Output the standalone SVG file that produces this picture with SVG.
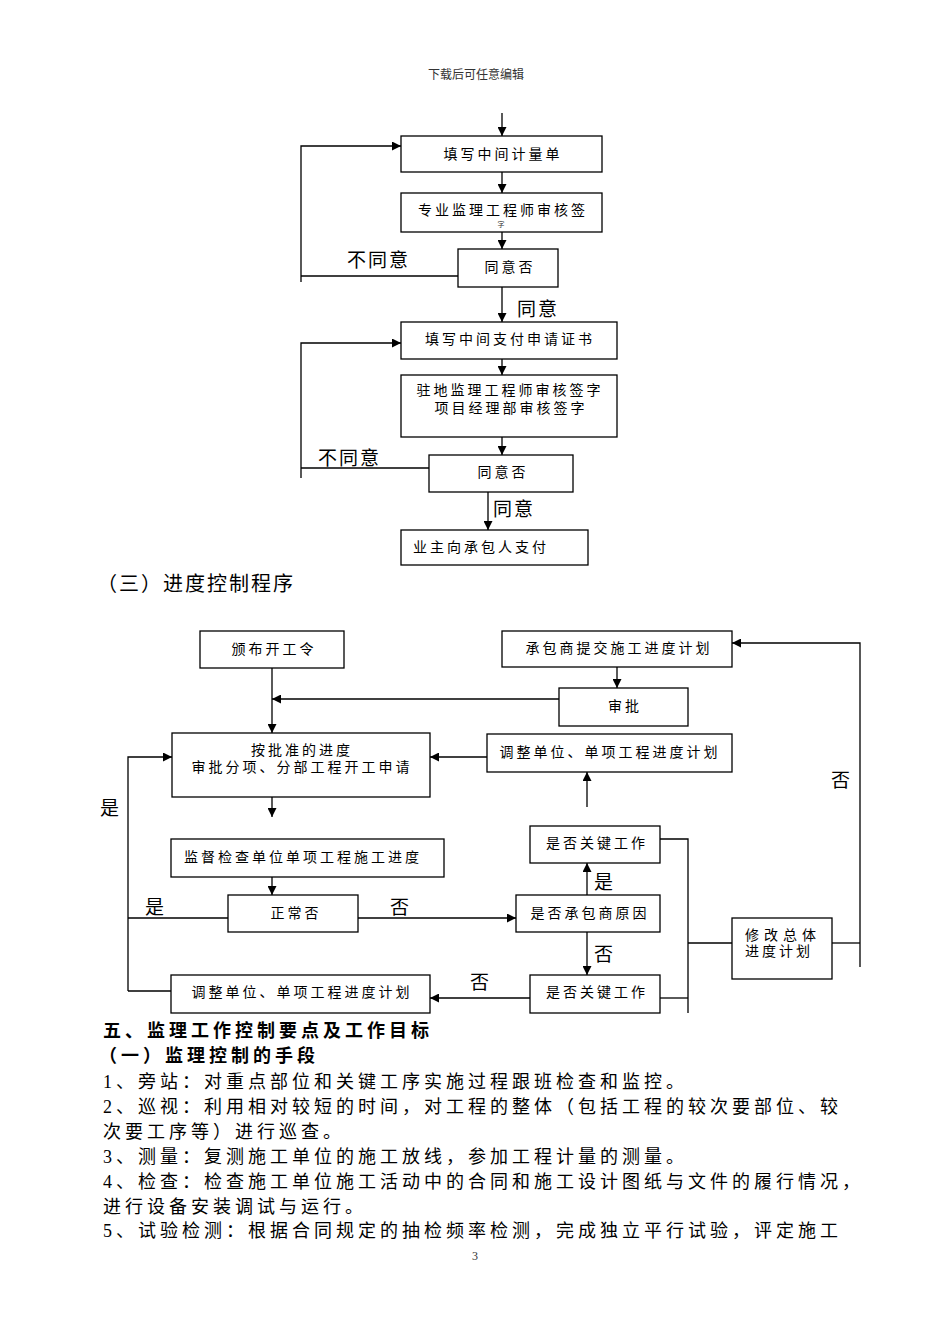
<svg xmlns="http://www.w3.org/2000/svg" width="950" height="1344" viewBox="0 0 950 1344">
<defs>
<marker id="ah" viewBox="0 0 10 10" refX="10" refY="5" markerWidth="10" markerHeight="9" orient="auto" markerUnits="userSpaceOnUse"><path d="M0,0 L10,5 L0,10 z" fill="#000"/></marker>
<style>
.box{fill:#fff;stroke:#000;stroke-width:1.3}
.ln{fill:none;stroke:#000;stroke-width:1.3}
.ar{fill:none;stroke:#000;stroke-width:1.3;marker-end:url(#ah)}
.bt{font-family:"Liberation Serif","Noto Sans CJK SC",sans-serif;font-size:14px;letter-spacing:3px;fill:#000}
.lb{font-family:"Liberation Serif","Noto Sans CJK SC",sans-serif;font-size:19px;letter-spacing:2px;fill:#000}
.ttl{font-family:"Liberation Serif","Noto Sans CJK SC",sans-serif;font-size:20px;letter-spacing:2px;fill:#000}
.body{font-family:"Liberation Serif","Noto Sans CJK SC",sans-serif;font-size:18px;letter-spacing:4px;fill:#000}
.hd{font-family:"Liberation Serif","Noto Sans CJK SC",sans-serif;font-size:18px;letter-spacing:4px;font-weight:bold;fill:#000}
.sm{font-family:"Liberation Serif","Noto Sans CJK SC",sans-serif;font-size:12px;fill:#333}
.c{text-anchor:middle}
</style>
</defs>
<rect width="950" height="1344" fill="#fff"/>
<text class="sm c" x="476" y="79">下载后可任意编辑</text>

<!-- Flowchart 1 -->
<g id="connectors1">
<path class="ar" d="M502,113 V136"/>
<path class="ar" d="M502,172 V193"/>
<path class="ar" d="M502,232 V249"/>
<path class="ln" d="M458,276 H301"/>
<path class="ar" d="M301,282 V146 H401"/>
<path class="ar" d="M502,287 V322"/>
<path class="ar" d="M502,359 V375"/>
<path class="ar" d="M502,437 V455"/>
<path class="ln" d="M429,468 H301"/>
<path class="ar" d="M301,478 V343 H401"/>
<path class="ar" d="M488,492 V530"/>
</g>
<g id="n1"><rect class="box" x="401" y="136" width="201" height="36"/><text class="bt c" x="503" y="159">填写中间计量单</text></g>
<g id="n2"><rect class="box" x="401" y="193" width="201" height="39"/><text class="bt c" x="503" y="215">专业监理工程师审核签</text><text x="501" y="227" font-family="Noto Sans CJK SC,sans-serif" font-size="7" text-anchor="middle" fill="#333">字</text></g>
<g id="n3"><rect class="box" x="458" y="249" width="100" height="38"/><text class="bt c" x="510" y="272">同意否</text></g>
<g id="n4"><rect class="box" x="401" y="322" width="216" height="37"/><text class="bt c" x="510" y="344">填写中间支付申请证书</text></g>
<g id="n5"><rect class="box" x="401" y="375" width="216" height="62"/><text class="bt c" x="510" y="395">驻地监理工程师审核签字</text><text class="bt c" x="511" y="413">项目经理部审核签字</text></g>
<g id="n6"><rect class="box" x="429" y="455" width="144" height="37"/><text class="bt c" x="503" y="477">同意否</text></g>
<g id="n7"><rect class="box" x="401" y="530" width="187" height="35"/><text class="bt" x="413" y="552">业主向承包人支付</text></g>
<text class="lb" x="347" y="267">不同意</text>
<text class="lb" x="517" y="316">同意</text>
<text class="lb" x="318" y="465">不同意</text>
<text class="lb" x="493" y="516">同意</text>

<text class="ttl" x="97" y="591">（三）进度控制程序</text>

<!-- Flowchart 2 -->
<g id="connectors2">
<path class="ar" d="M272,668 V733"/>
<path class="ar" d="M559,699 H272"/>
<path class="ar" d="M617,667 V688"/>
<path class="ar" d="M487,757 H430"/>
<path class="ar" d="M272,797 V817"/>
<path class="ar" d="M587,807 V772"/>
<path class="ar" d="M860,967 V643 H732"/>
<path class="ln" d="M832,943 H860"/>
<path class="ln" d="M688,943 H732"/>
<path class="ln" d="M660,839 H688 V1013"/>
<path class="ln" d="M660,998 H688"/>
<path class="ar" d="M358,918 H516"/>
<path class="ln" d="M228,918 H128"/>
<path class="ar" d="M128,991 V757 H172"/>
<path class="ln" d="M128,991 H171"/>
<path class="ar" d="M587,895 V863"/>
<path class="ar" d="M587,932 V975"/>
<path class="ar" d="M530,998 H430"/>
<path class="ar" d="M272,877 V895"/>
</g>
<g id="m1"><rect class="box" x="200" y="631" width="144" height="37"/><text class="bt c" x="274" y="654">颁布开工令</text></g>
<g id="m2"><rect class="box" x="502" y="631" width="230" height="36"/><text class="bt c" x="619" y="653">承包商提交施工进度计划</text></g>
<g id="m3"><rect class="box" x="559" y="688" width="129" height="38"/><text class="bt c" x="625" y="711">审批</text></g>
<g id="m4"><rect class="box" x="172" y="733" width="258" height="64"/><text class="bt c" x="302" y="755">按批准的进度</text><text class="bt c" x="302" y="772">审批分项、分部工程开工申请</text></g>
<g id="m5"><rect class="box" x="487" y="734" width="245" height="38"/><text class="bt c" x="610" y="757">调整单位、单项工程进度计划</text></g>
<g id="m6"><rect class="box" x="171" y="839" width="273" height="38"/><text class="bt" x="184" y="862">监督检查单位单项工程施工进度</text></g>
<g id="m7"><rect class="box" x="228" y="895" width="130" height="37"/><text class="bt c" x="296" y="918">正常否</text></g>
<g id="m8"><rect class="box" x="530" y="826" width="130" height="37"/><text class="bt c" x="597" y="848">是否关键工作</text></g>
<g id="m9"><rect class="box" x="516" y="895" width="144" height="37"/><text class="bt c" x="590" y="918">是否承包商原因</text></g>
<g id="m10"><rect class="box" x="732" y="918" width="100" height="61"/><text class="bt" x="745" y="940" style="letter-spacing:5px">修改总体</text><text class="bt" x="745" y="956">进度计划</text></g>
<g id="m11"><rect class="box" x="530" y="975" width="130" height="38"/><text class="bt c" x="597" y="997">是否关键工作</text></g>
<g id="m12"><rect class="box" x="171" y="975" width="259" height="38"/><text class="bt c" x="302" y="997">调整单位、单项工程进度计划</text></g>
<text class="lb" x="831" y="787">否</text>
<text class="lb" x="100" y="815">是</text>
<text class="lb" x="145" y="914">是</text>
<text class="lb" x="390" y="914">否</text>
<text class="lb" x="594" y="889">是</text>
<text class="lb" x="594" y="961">否</text>
<text class="lb" x="470" y="989">否</text>

<!-- Body text -->
<text class="hd" x="103" y="1037">五、监理工作控制要点及工作目标</text>
<text class="hd" x="99" y="1062">（一）监理控制的手段</text>
<text class="body" x="103" y="1088">1、旁站：对重点部位和关键工序实施过程跟班检查和监控。</text>
<text class="body" x="103" y="1113">2、巡视：利用相对较短的时间，对工程的整体（包括工程的较次要部位、较</text>
<text class="body" x="103" y="1138">次要工序等）进行巡查。</text>
<text class="body" x="103" y="1163">3、测量：复测施工单位的施工放线，参加工程计量的测量。</text>
<text class="body" x="103" y="1188">4、检查：检查施工单位施工活动中的合同和施工设计图纸与文件的履行情况，</text>
<text class="body" x="103" y="1213">进行设备安装调试与运行。</text>
<text class="body" x="103" y="1237">5、试验检测：根据合同规定的抽检频率检测，完成独立平行试验，评定施工</text>
<text class="sm c" x="475" y="1260">3</text>
</svg>
